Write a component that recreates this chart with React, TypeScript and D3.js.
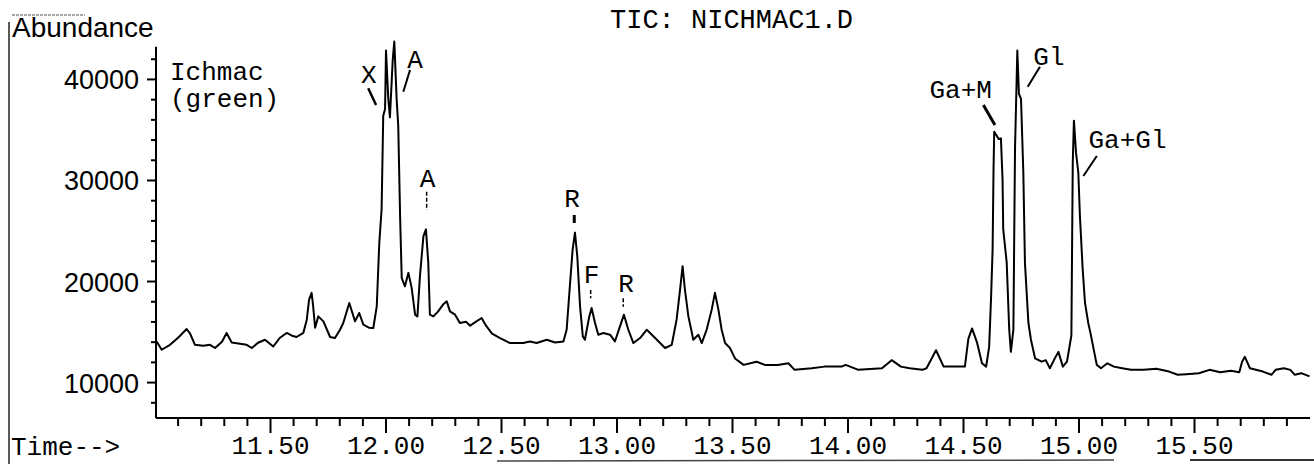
import React from "react";
import * as d3 from "d3";

// Retention time (min)
const times = [
  11.007, 11.029, 11.065, 11.1, 11.137, 11.152, 11.173, 11.209, 11.238, 11.26, 11.29, 11.31, 11.332, 11.368, 11.397, 11.419, 11.446, 11.476, 11.512, 11.541,
  11.57, 11.593, 11.613, 11.642, 11.657, 11.667, 11.678, 11.684, 11.693, 11.707, 11.729, 11.758, 11.779, 11.801, 11.815, 11.841, 11.866, 11.884, 11.902, 11.926,
  11.945, 11.96, 11.971, 11.981, 11.988, 11.996, 12.0, 12.01, 12.017, 12.029, 12.036, 12.046, 12.053, 12.061, 12.068, 12.082, 12.097, 12.111, 12.126, 12.136,
  12.147, 12.162, 12.173, 12.183, 12.19, 12.205, 12.225, 12.247, 12.263, 12.277, 12.299, 12.32, 12.346, 12.364, 12.39, 12.414, 12.433, 12.459, 12.494, 12.537,
  12.594, 12.623, 12.652, 12.696, 12.732, 12.768, 12.782, 12.797, 12.808, 12.818, 12.828, 12.84, 12.852, 12.861, 12.88, 12.89, 12.905, 12.919, 12.941, 12.97,
  12.991, 13.013, 13.03, 13.049, 13.071, 13.1, 13.129, 13.165, 13.208, 13.237, 13.258, 13.273, 13.284, 13.294, 13.309, 13.323, 13.33, 13.352, 13.367, 13.388,
  13.41, 13.424, 13.439, 13.453, 13.468, 13.489, 13.511, 13.548, 13.604, 13.64, 13.696, 13.742, 13.769, 13.843, 13.898, 13.972, 13.99, 14.045, 14.147, 14.189,
  14.229, 14.267, 14.322, 14.34, 14.381, 14.414, 14.506, 14.521, 14.537, 14.558, 14.58, 14.598, 14.611, 14.619, 14.626, 14.63, 14.633, 14.644, 14.652, 14.662,
  14.669, 14.672, 14.687, 14.698, 14.705, 14.716, 14.723, 14.733, 14.74, 14.749, 14.759, 14.766, 14.781, 14.792, 14.81, 14.838, 14.856, 14.874, 14.892, 14.911,
  14.93, 14.948, 14.967, 14.97, 14.973, 14.978, 14.987, 14.997, 15.004, 15.016, 15.026, 15.04, 15.049, 15.077, 15.095, 15.123, 15.151, 15.187, 15.225, 15.28,
  15.335, 15.39, 15.427, 15.464, 15.519, 15.565, 15.611, 15.658, 15.694, 15.706, 15.718, 15.74, 15.796, 15.833, 15.851, 15.887, 15.915, 15.934, 15.962, 15.998,
];

// Total ion current abundance
const abundance = [
  14070, 13250, 13740, 14440, 15300, 14840, 13740, 13640, 13740, 13420, 14040, 14910, 13970, 13840, 13740, 13420, 13940, 14240, 13570, 14440,
  14910, 14640, 14510, 14910, 16230, 18210, 18880, 17720, 15430, 16550, 16060, 14510, 14410, 15230, 15900, 17880, 16060, 16890, 15730, 15430,
  15400, 17550, 23840, 27150, 36410, 37080, 42870, 38070, 36250, 41880, 43760, 38070, 35420, 26480, 20370, 19530, 20860, 19370, 16720, 16550,
  20530, 24500, 25160, 21860, 16720, 16550, 17020, 17720, 18040, 17050, 16720, 15900, 16030, 15630, 16030, 16390, 15630, 14840, 14410, 13910,
  13910, 14070, 13910, 14240, 13970, 14070, 15230, 19870, 23180, 24840, 22510, 17550, 14570, 14240, 16550, 17390, 15900, 14740, 14910, 14740,
  14070, 15560, 16720, 15230, 13910, 14410, 15230, 14410, 13420, 13740, 16230, 19210, 21520, 19210, 16550, 15060, 14240, 14740, 13910, 15230,
  17220, 18880, 17220, 15230, 13910, 13420, 12390, 11750, 12070, 11750, 11750, 11910, 11260, 11420, 11580, 11580, 11750, 11260, 11420, 12220,
  11580, 11420, 11260, 11420, 13200, 11580, 11580, 14330, 15360, 14010, 11910, 11580, 13530, 18210, 23180, 31120, 34830, 34430, 34100, 34170,
  30130, 25160, 21890, 15230, 13050, 15230, 33110, 42870, 38570, 38070, 30790, 21860, 15900, 14240, 12390, 12070, 12220, 11420, 12250, 13040,
  11580, 12070, 14660, 23180, 31790, 35920, 32780, 30790, 26480, 21190, 17880, 15900, 14970, 11750, 11420, 11910, 11580, 11420, 11260, 11260,
  11360, 11090, 10770, 10830, 10930, 11260, 11030, 11160, 11030, 12060, 12550, 11420, 11090, 10770, 11260, 11420, 11260, 10770, 10930, 10610,
];

const xTickLabels = ["11.50", "12.00", "12.50", "13.00", "13.50", "14.00", "14.50", "15.00", "15.50"];
const yTickLabels = ["10000", "20000", "30000", "40000"];

// Peak annotations (text anchored in data units)
const peakText = ["X", "A", "A", "R", "F", "R", "Ga+M", "Gl", "Ga+Gl"];
const peakTextT = [11.926, 12.126, 12.18, 12.805, 12.89, 13.039, 14.488, 14.87, 15.21];
const peakTextV = [39620, 41130, 29355, 27376, 19825, 18993, 38162, 41428, 33184];
// Leader lines
const leaderT1 = [11.923, 12.104, 12.176, 12.815, 12.886, 13.027, 14.586, 14.831, 15.077];
const leaderV1 = [39120, 40930, 28890, 26584, 19162, 18340, 37469, 41260, 32423];
const leaderT2 = [11.957, 12.075, 12.176, 12.815, 12.886, 13.027, 14.636, 14.778, 15.019];
const leaderV2 = [37470, 38786, 27079, 25790, 18340, 17510, 35490, 39280, 30444];
const leaderDash = [false, false, true, false, true, true, false, false, false];
const leaderWidth = [2.5, 2, 1.5, 3, 1.5, 1.5, 3, 2, 2];

const W = 1314;
const H = 464;

export default function App() {
  const x = d3.scaleLinear().domain([11.0, 16.0]).range([155, 1310]);
  const y = d3.scaleLinear().domain([6495, 43240]).range([418, 46.7]);
  const n = Math.min(times.length, abundance.length);
  const pts: [number, number][] = d3.range(n).map((i) => [times[i], abundance[i]]);
  const line = d3
    .line<[number, number]>()
    .x((d) => x(d[0]))
    .y((d) => y(d[1]));

  const x0 = x.range()[0] + 1;
  const yBottom = y.range()[0];
  const yTop = y.range()[1];

  const minorX = d3.range(111, 160).map((v) => v / 10).filter((v) => Math.round(v * 10) % 5 !== 0);
  const majorX = xTickLabels.map((s) => +s);
  const minorY = d3.range(8000, 43000, 2000).filter((v) => v % 10000 !== 0);
  const majorY = yTickLabels.map((s) => +s);

  const mono = "'Liberation Mono', 'Courier New', monospace";
  const sans = "'Liberation Sans', Arial, sans-serif";

  return (
    <div style={{ position: "absolute", left: 0, top: 0 }}>
      <svg width={W} height={H} style={{ display: "block", background: "#fff" }}>
        {/* scan border artifacts */}
        <line x1={9} y1={22} x2={9} y2={H} stroke="#222" strokeWidth={1.5} />
        <line x1={12} y1={15} x2={85} y2={15} stroke="#555" strokeWidth={1.2} strokeDasharray="3 1" />
        <line x1={497} y1={461} x2={1114} y2={460} stroke="#444" strokeWidth={1.5} />
        <line x1={1190} y1={460} x2={1314} y2={460} stroke="#333" strokeWidth={2} />

        {/* title */}
        <text x={610} y={28} fontFamily={mono} fontSize={27} fill="#000">
          TIC: NICHMAC1.D
        </text>
        <text x={12} y={37} fontFamily={sans} fontSize={28} fill="#000">
          Abundance
        </text>
        <text x={170} y={80} fontFamily={mono} fontSize={26}>
          <tspan x={170} y={80}>Ichmac</tspan>
          <tspan x={170} y={107}>(green)</tspan>
        </text>

        {/* y axis */}
        <line x1={x0} y1={yTop} x2={x0} y2={yBottom} stroke="#000" strokeWidth={2} />
        {minorY.map((v) => (
          <line key={"my" + v} x1={x0 - 5} x2={x0} y1={y(v)} y2={y(v)} stroke="#000" strokeWidth={2} />
        ))}
        {majorY.map((v, i) => (
          <g key={"My" + v}>
            <line x1={x0 - 9} x2={x0} y1={y(v)} y2={y(v)} stroke="#000" strokeWidth={2} />
            <text x={139} y={y(v) + 10} textAnchor="end" fontFamily={sans} fontSize={27} fill="#000">
              {yTickLabels[i]}
            </text>
          </g>
        ))}

        {/* x axis */}
        <line x1={x0} y1={yBottom} x2={1310} y2={yBottom} stroke="#000" strokeWidth={2} />
        {minorX.map((v) => (
          <line key={"mx" + v} x1={x(v)} x2={x(v)} y1={yBottom} y2={yBottom + 8} stroke="#000" strokeWidth={2} />
        ))}
        {majorX.map((v, i) => (
          <g key={"Mx" + v}>
            <line x1={x(v)} x2={x(v)} y1={yBottom} y2={yBottom + 15} stroke="#000" strokeWidth={2} />
            <text x={x(v)} y={yBottom + 36} textAnchor="middle" fontFamily={mono} fontSize={26} fill="#000">
              {xTickLabels[i]}
            </text>
          </g>
        ))}
        <text x={11} y={yBottom + 37} fontFamily={mono} fontSize={26} fill="#000">
          Time--&gt;
        </text>

        {/* chromatogram */}
        <path d={line(pts) || ""} fill="none" stroke="#000" strokeWidth={2} strokeLinejoin="round" />

        {/* annotations */}
        {peakText.map((s, i) => (
          <text
            key={"pt" + i}
            x={x(peakTextT[i])}
            y={y(peakTextV[i])}
            textAnchor="middle"
            fontFamily={mono}
            fontSize={26}
            fill="#000"
          >
            {s}
          </text>
        ))}
        {leaderT1.map((t, i) => (
          <line
            key={"ld" + i}
            x1={x(t)}
            y1={y(leaderV1[i])}
            x2={x(leaderT2[i])}
            y2={y(leaderV2[i])}
            stroke="#000"
            strokeWidth={leaderWidth[i]}
            strokeDasharray={leaderDash[i] ? "4 2" : undefined}
          />
        ))}
      </svg>
    </div>
  );
}
